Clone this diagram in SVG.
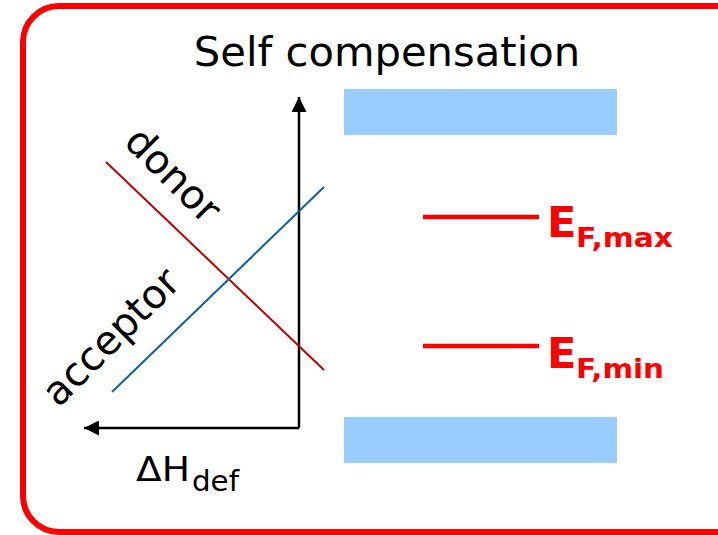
<svg xmlns="http://www.w3.org/2000/svg" width="718" height="535" viewBox="0 0 718 535">
<style>
  .t { font-family: "DejaVu Sans", Verdana, sans-serif; fill: #000; }
  .ef { font-family: "DejaVu Sans", Verdana, sans-serif; font-weight: bold; fill: #ff0000; }
  .axis { stroke: #000; stroke-width: 2.5; fill: none; }
  .band { fill: #99ccff; }
  .level { stroke: #ff0000; stroke-width: 4.5; }
</style>
<defs>
  <marker id="ah" viewBox="0 0 10 10" refX="10" refY="5" markerWidth="6" markerHeight="6" markerUnits="strokeWidth" orient="auto">
    <path d="M0,0 L10,5 L0,10 z" fill="#000"/>
  </marker>
</defs>
<rect width="718" height="535" fill="#fff"/>
<rect id="frame" x="23" y="6" width="740" height="526" rx="36" ry="36" fill="none" stroke="#ff0000" stroke-width="6"/>
<g id="title"><text class="t" x="387" y="66" font-size="41.7" text-anchor="middle">Self compensation</text></g>
<g id="connectors">
  <path class="axis" d="M299,428 L299,97" marker-end="url(#ah)"/>
  <path class="axis" d="M299,428 L84,428" marker-end="url(#ah)"/>
  <line x1="106" y1="162" x2="324" y2="370" stroke="#c00000" stroke-width="2"/>
  <line x1="112" y1="392" x2="324" y2="187" stroke="#1060a0" stroke-width="2"/>
</g>
<g id="donor"><text class="t" font-size="40" text-anchor="middle" transform="translate(172,176) rotate(45)" y="12">donor</text></g>
<g id="acceptor"><text class="t" font-size="40" text-anchor="middle" transform="translate(112,338) rotate(-45)" y="12">acceptor</text></g>
<g id="dH">
  <text class="t" x="136" y="481" font-size="34" textLength="54" lengthAdjust="spacingAndGlyphs">ΔH</text>
  <text class="t" x="192" y="491" font-size="28" textLength="47" lengthAdjust="spacingAndGlyphs">def</text>
</g>
<g id="cb"><rect class="band" x="344" y="89" width="273" height="46"/></g>
<g id="vb"><rect class="band" x="344" y="417" width="273" height="46"/></g>
<g id="efmax">
  <line class="level" x1="423" y1="217" x2="539" y2="217"/>
  <text class="ef" x="547" y="237" font-size="43">E</text>
  <text class="ef" x="576" y="247" font-size="26" textLength="97" lengthAdjust="spacingAndGlyphs">F,max</text>
</g>
<g id="efmin">
  <line class="level" x1="423" y1="346" x2="539" y2="346"/>
  <text class="ef" x="547" y="368" font-size="43">E</text>
  <text class="ef" x="576" y="378" font-size="26" textLength="88" lengthAdjust="spacingAndGlyphs">F,min</text>
</g>
</svg>
